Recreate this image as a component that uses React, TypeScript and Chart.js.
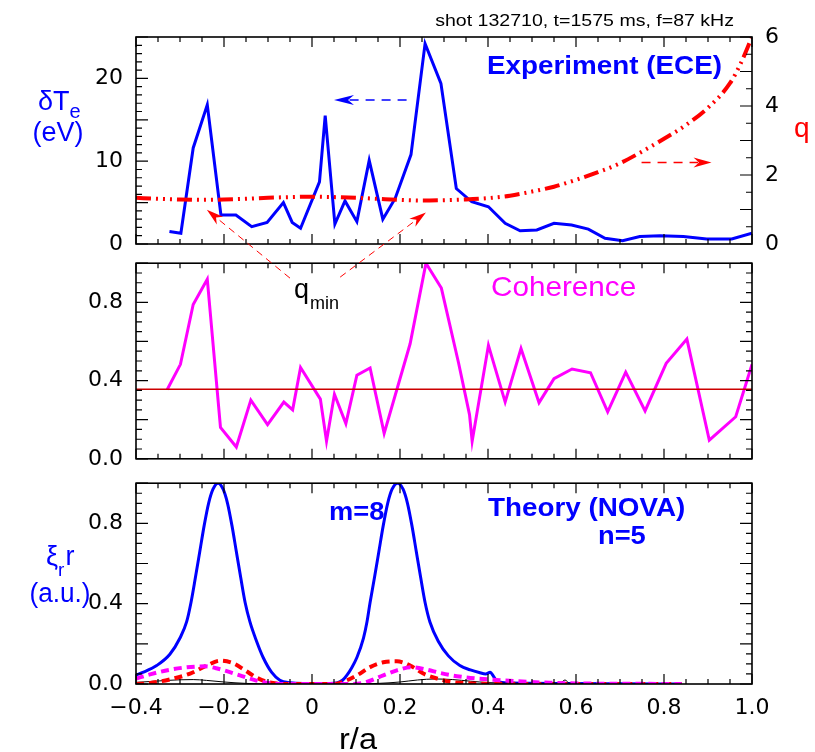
import React, { useEffect, useRef } from 'react';
import { Chart, registerables } from 'chart.js';
Chart.register(...registerables);

// ---------------- data ----------------
const xTickValues = [-0.4, -0.2, 0, 0.2, 0.4, 0.6, 0.8, 1.0];
const xTickLabels = ['−0.4', '−0.2', '0', '0.2', '0.4', '0.6', '0.8', '1.0'];
const dTeTickValues = [0, 10, 20];
const dTeTickLabels = ['0', '10', '20'];
const qTickValues = [0, 2, 4, 6];
const qTickLabels = ['0', '2', '4', '6'];
const unitTickValues = [0, 0.4, 0.8];
const unitTickLabels = ['0.0', '0.4', '0.8'];

// Experiment (ECE) delta Te [eV]
const eceR = [-0.324, -0.298, -0.27, -0.238, -0.207, -0.173, -0.137, -0.102, -0.065, -0.045, -0.026, 0.017, 0.03, 0.052, 0.075, 0.102, 0.13, 0.161, 0.189, 0.225, 0.257, 0.293, 0.328, 0.363, 0.401, 0.439, 0.473, 0.511, 0.55, 0.59, 0.628, 0.666, 0.706, 0.745, 0.791, 0.844, 0.897, 0.954, 1.0];
const eceDTe = [1.5, 1.3, 11.6, 16.8, 3.5, 3.5, 2.1, 2.6, 5.0, 2.6, 1.9, 7.5, 15.5, 2.4, 5.2, 2.7, 10.1, 3.0, 5.5, 10.8, 24.2, 19.4, 6.7, 5.1, 4.5, 2.5, 1.6, 1.7, 2.5, 2.3, 1.8, 0.7, 0.4, 0.9, 1.0, 0.9, 0.6, 0.6, 1.3];

// safety factor profile q
const qR = [-0.4, -0.35, -0.3, -0.25, -0.2, -0.15, -0.1, -0.05, 0, 0.05, 0.1, 0.15, 0.2, 0.25, 0.3, 0.35, 0.4, 0.45, 0.5, 0.55, 0.6, 0.65, 0.7, 0.75, 0.8, 0.85, 0.9, 0.95, 0.975, 1.0];
const qProfile = [1.34, 1.31, 1.29, 1.28, 1.29, 1.31, 1.34, 1.36, 1.37, 1.36, 1.34, 1.31, 1.28, 1.26, 1.27, 1.29, 1.33, 1.4, 1.52, 1.66, 1.86, 2.08, 2.34, 2.68, 3.05, 3.45, 3.95, 4.66, 5.25, 6.0];

// Coherence
const cohR = [-0.329, -0.299, -0.27, -0.238, -0.208, -0.172, -0.139, -0.101, -0.064, -0.044, -0.026, 0.019, 0.033, 0.051, 0.077, 0.102, 0.132, 0.164, 0.223, 0.259, 0.294, 0.333, 0.358, 0.364, 0.401, 0.439, 0.475, 0.516, 0.55, 0.591, 0.633, 0.672, 0.713, 0.757, 0.805, 0.852, 0.903, 0.963, 1.0];
const cohValue = [0.354, 0.483, 0.789, 0.918, 0.16, 0.06, 0.3, 0.175, 0.29, 0.25, 0.467, 0.305, 0.09, 0.33, 0.18, 0.427, 0.464, 0.13, 0.588, 1.0, 0.873, 0.491, 0.226, 0.09, 0.58, 0.29, 0.564, 0.287, 0.41, 0.459, 0.44, 0.24, 0.443, 0.245, 0.488, 0.612, 0.095, 0.215, 0.483];
const cohLevelR = [-0.4, 1.0];
const cohLevel = [0.355, 0.355];

// Theory (NOVA) eigenfunction harmonics
const novaM8R = [-0.4, -0.383, -0.353, -0.323, -0.3, -0.285, -0.275, -0.265, -0.255, -0.245, -0.235, -0.225, -0.2135, -0.202, -0.192, -0.182, -0.172, -0.162, -0.152, -0.141, -0.126, -0.111, -0.092, -0.073, -0.05, -0.02, 0.02, 0.056, 0.07, 0.079, 0.09, 0.102, 0.117, 0.125, 0.132, 0.142, 0.152, 0.162, 0.172, 0.182, 0.1945, 0.207, 0.217, 0.227, 0.237, 0.247, 0.257, 0.268, 0.287, 0.31, 0.336, 0.36, 0.38, 0.395, 0.405, 0.412, 0.42, 0.44, 0.5, 0.6, 0.7, 0.84];
const novaM8 = [0.045, 0.059, 0.092, 0.148, 0.229, 0.309, 0.406, 0.53, 0.66, 0.79, 0.9, 0.97, 1.0, 0.97, 0.9, 0.79, 0.66, 0.53, 0.406, 0.309, 0.213, 0.132, 0.059, 0.019, 0.006, 0.002, 0.002, 0.005, 0.02, 0.043, 0.08, 0.132, 0.229, 0.31, 0.406, 0.53, 0.66, 0.79, 0.9, 0.97, 1.0, 0.97, 0.9, 0.79, 0.66, 0.53, 0.406, 0.309, 0.213, 0.14, 0.092, 0.07, 0.057, 0.05, 0.058, 0.04, 0.015, 0.006, 0.004, 0.002, 0.001, 0.0];
const novaM7R = [-0.4, -0.37, -0.323, -0.277, -0.239, -0.209, -0.179, -0.152, -0.126, -0.103, -0.08, -0.05, 0.05, 0.071, 0.102, 0.132, 0.162, 0.193, 0.223, 0.253, 0.283, 0.314, 0.35, 0.4, 0.84];
const novaM7 = [0.0, 0.004, 0.023, 0.052, 0.092, 0.116, 0.103, 0.068, 0.032, 0.011, 0.002, 0.0, 0.0, 0.011, 0.043, 0.084, 0.108, 0.113, 0.092, 0.052, 0.028, 0.011, 0.004, 0.001, 0.0];
const novaM9R = [-0.4, -0.368, -0.323, -0.285, -0.243, -0.213, -0.164, -0.13, -0.103, -0.07, 0.08, 0.117, 0.162, 0.193, 0.225, 0.26, 0.291, 0.329, 0.427, 0.488, 0.541, 0.6, 0.84];
const novaM9 = [0.027, 0.048, 0.071, 0.083, 0.088, 0.076, 0.043, 0.019, 0.006, 0.0, 0.0, 0.006, 0.043, 0.068, 0.084, 0.072, 0.055, 0.039, 0.019, 0.011, 0.006, 0.003, 0.0];
const novaM6R = [-0.4, -0.35, -0.3, -0.27, -0.24, -0.2, -0.15, -0.1, 0, 0.1, 0.15, 0.2, 0.24, 0.28, 0.32, 0.36, 0.4, 0.45, 0.5, 0.55, 0.565, 0.575, 0.585, 0.62];
const novaM6 = [0.008, 0.015, 0.021, 0.022, 0.018, 0.01, 0.003, 0.0, 0.0, 0.0, 0.003, 0.01, 0.02, 0.025, 0.022, 0.014, 0.007, 0.004, 0.003, 0.003, 0.006, 0.02, 0.004, 0.002];

// ---------------- styling helpers ----------------
const FONT = '"Liberation Sans", Arial, Helvetica, sans-serif';
const TICK_FONT = { family: '"DejaVu Sans", sans-serif', size: 22 };
const BLUE = '#0000ff';
const RED = '#ff0000';
const MAGENTA = '#ff00ff';

const pts = (xs: number[], ys: number[]) => xs.map((x, i) => ({ x, y: ys[i] }));

function xScale(showLabels: boolean, height: number): any {
  return {
    type: 'linear', position: 'bottom', min: -0.4, max: 1.0,
    grid: { display: false }, border: { display: false },
    afterBuildTicks: (s: any) => { s.ticks = xTickValues.map((v) => ({ value: v })); },
    ticks: {
      display: showLabels, autoSkip: false, maxRotation: 0, minRotation: 0, padding: 3,
      font: TICK_FONT, color: '#000', callback: (_v: any, i: number) => xTickLabels[i],
    },
    afterFit: (s: any) => { s.height = height; },
  };
}

function yScale(min: number, max: number, vals: number[], labels: string[], position: string, width: number): any {
  return {
    type: 'linear', position, min, max,
    grid: { display: false }, border: { display: false },
    afterBuildTicks: (s: any) => { s.ticks = vals.map((v) => ({ value: v })); },
    ticks: { autoSkip: false, padding: 5, font: TICK_FONT, color: '#000', callback: (_v: any, i: number) => labels[i] },
    afterFit: (s: any) => { s.width = width; },
  };
}

function label(ctx: CanvasRenderingContext2D, s: string, x: number, y: number, size: number, color: string,
  o: { bold?: boolean; align?: CanvasTextAlign; sx?: number } = {}) {
  ctx.save();
  ctx.translate(x, y);
  ctx.scale(o.sx ?? 1.1, 1);
  ctx.font = `${o.bold ? 'bold ' : ''}${size}px ${FONT}`;
  ctx.textAlign = o.align ?? 'left';
  ctx.textBaseline = 'alphabetic';
  ctx.fillStyle = color;
  ctx.fillText(s, 0, 0);
  ctx.restore();
}

function textWidth(ctx: CanvasRenderingContext2D, s: string, size: number, sx = 1.1, bold = false) {
  ctx.save();
  ctx.font = `${bold ? 'bold ' : ''}${size}px ${FONT}`;
  const w = ctx.measureText(s).width * sx;
  ctx.restore();
  return w;
}

function arrow(ctx: CanvasRenderingContext2D, x0: number, y0: number, x1: number, y1: number, color: string,
  lw: number, dash: number[], headLen: number, headW: number) {
  const ang = Math.atan2(y1 - y0, x1 - x0);
  const c = Math.cos(ang), s = Math.sin(ang);
  const nx = -s, ny = c;
  ctx.save();
  ctx.strokeStyle = color; ctx.fillStyle = color; ctx.lineWidth = lw;
  ctx.setLineDash(dash);
  ctx.beginPath();
  ctx.moveTo(x0, y0);
  ctx.lineTo(x1 - headLen * 0.75 * c, y1 - headLen * 0.75 * s);
  ctx.stroke();
  ctx.setLineDash([]);
  ctx.beginPath();
  ctx.moveTo(x1, y1);
  ctx.lineTo(x1 - headLen * c + headW * nx, y1 - headLen * s + headW * ny);
  ctx.lineTo(x1 - headLen * 0.7 * c, y1 - headLen * 0.7 * s);
  ctx.lineTo(x1 - headLen * c - headW * nx, y1 - headLen * s - headW * ny);
  ctx.closePath();
  ctx.fill();
  ctx.restore();
}

function framePlugin(cfg: { yId: string; yMinor: number; yMajor: number; rId?: string; rMinor?: number; rMajor?: number }) {
  return {
    id: 'frame',
    afterDatasetsDraw(chart: any) {
      const { ctx, chartArea: a, scales } = chart;
      const xs = scales.x;
      const each = (min: number, max: number, minor: number, major: number, fn: (v: number, maj: boolean) => void) => {
        const n = Math.round((max - min) / minor);
        for (let i = 0; i <= n; i++) {
          const v = min + i * minor;
          const r = v / major;
          fn(v, Math.abs(r - Math.round(r)) < 1e-6);
        }
      };
      ctx.save();
      ctx.strokeStyle = '#000';
      ctx.lineWidth = 1.2;
      ctx.beginPath();
      each(xs.min, xs.max, 0.05, 0.2, (v, maj) => {
        const px = xs.getPixelForValue(v);
        const L = maj ? 10 : 5;
        ctx.moveTo(px, a.bottom); ctx.lineTo(px, a.bottom - L);
        ctx.moveTo(px, a.top); ctx.lineTo(px, a.top + L);
      });
      const ys = scales[cfg.yId];
      each(ys.min, ys.max, cfg.yMinor, cfg.yMajor, (v, maj) => {
        const py = ys.getPixelForValue(v);
        const L = maj ? 12 : 6;
        ctx.moveTo(a.left, py); ctx.lineTo(a.left + L, py);
        if (!cfg.rId) { ctx.moveTo(a.right, py); ctx.lineTo(a.right - L, py); }
      });
      if (cfg.rId) {
        const rs = scales[cfg.rId];
        each(rs.min, rs.max, cfg.rMinor as number, cfg.rMajor as number, (v, maj) => {
          const py = rs.getPixelForValue(v);
          const L = maj ? 12 : 6;
          ctx.moveTo(a.right, py); ctx.lineTo(a.right - L, py);
        });
      }
      ctx.stroke();
      ctx.lineWidth = 1.6;
      ctx.strokeRect(a.left, a.top, a.right - a.left, a.bottom - a.top);
      ctx.restore();
    },
  };
}

function textPlugin(draw: (chart: any) => void) {
  return { id: 'texts', afterDraw: (chart: any) => draw(chart) };
}

const TOP_OFF = 0;
const MID_OFF = 245;
const BOT_OFF = 465;

// ---------------- component ----------------
export default function App() {
  const topRef = useRef<HTMLCanvasElement>(null);
  const midRef = useRef<HTMLCanvasElement>(null);
  const botRef = useRef<HTMLCanvasElement>(null);

  useEffect(() => {
    const lineBase = { pointRadius: 0, fill: false, borderJoinStyle: 'miter' as const };

    const top = new Chart(topRef.current as HTMLCanvasElement, {
      type: 'line',
      data: {
        datasets: [
          {
            ...lineBase, label: 'q', data: pts(qR, qProfile), yAxisID: 'q', borderColor: RED, borderWidth: 4,
            borderDash: [15, 5, 2, 5, 2, 5, 2, 5], cubicInterpolationMode: 'monotone',
          } as any,
          { ...lineBase, label: 'δTe (ECE)', data: pts(eceR, eceDTe), yAxisID: 'y', borderColor: BLUE, borderWidth: 3 } as any,
        ],
      },
      options: {
        animation: false, responsive: false, devicePixelRatio: 1,
        layout: { padding: { top: 37, left: 0, right: 0, bottom: 0 } },
        plugins: { legend: { display: false }, tooltip: { enabled: false } },
        scales: {
          x: xScale(false, 76),
          y: yScale(0, 25, dTeTickValues, dTeTickLabels, 'left', 136),
          q: yScale(0, 6, qTickValues, qTickLabels, 'right', 63),
        },
      } as any,
      plugins: [
        framePlugin({ yId: 'y', yMinor: 1, yMajor: 5, rId: 'q', rMinor: 0.5, rMajor: 1 }),
        textPlugin((chart) => {
          const ctx: CanvasRenderingContext2D = chart.ctx;
          const xs = chart.scales.x, ys = chart.scales.y, qs = chart.scales.q;
          const o = TOP_OFF;
          label(ctx, 'shot 132710, t=1575 ms, f=87 kHz', 734, 26 - o, 17, '#000', { align: 'right', sx: 1.15 });
          label(ctx, 'Experiment (ECE)', 487, 74 - o, 26, BLUE, { bold: true, sx: 1.07 });
          // δTe (eV)
          const w = textWidth(ctx, 'δT', 27, 1.0);
          label(ctx, 'δT', 38, 110 - o, 27, BLUE, { sx: 1.0 });
          label(ctx, 'e', 38 + w, 118 - o, 20, BLUE, { sx: 1.0 });
          label(ctx, '(eV)', 58, 141 - o, 27, BLUE, { align: 'center', sx: 1.0 });
          // q
          label(ctx, 'q', 794, 137 - o, 28, RED, { sx: 1.0 });
          // arrows
          arrow(ctx, xs.getPixelForValue(0.215), ys.getPixelForValue(17.4), xs.getPixelForValue(0.05), ys.getPixelForValue(17.4), BLUE, 1.5, [9, 7], 20, 5);
          arrow(ctx, xs.getPixelForValue(0.749), qs.getPixelForValue(2.36), xs.getPixelForValue(0.908), qs.getPixelForValue(2.36), RED, 1.5, [9, 7], 18, 5);
          arrow(ctx, xs.getPixelForValue(-0.05), qs.getPixelForValue(-0.99), xs.getPixelForValue(-0.239), qs.getPixelForValue(0.99), RED, 1, [7, 5], 17, 5);
          arrow(ctx, xs.getPixelForValue(0.064), qs.getPixelForValue(-0.96), xs.getPixelForValue(0.259), qs.getPixelForValue(0.91), RED, 1, [7, 5], 17, 5);
          // q_min
          label(ctx, 'q', 294, 298 - o, 27, '#000', { sx: 1.0 });
          label(ctx, 'min', 310, 309 - o, 18, '#000', { sx: 1.0 });
        }),
      ],
    });

    const mid = new Chart(midRef.current as HTMLCanvasElement, {
      type: 'line',
      data: {
        datasets: [
          { ...lineBase, label: 'level', data: pts(cohLevelR, cohLevel), borderColor: '#cc0000', borderWidth: 1.5 } as any,
          { ...lineBase, label: 'Coherence', data: pts(cohR, cohValue), borderColor: MAGENTA, borderWidth: 3 } as any,
        ],
      },
      options: {
        animation: false, responsive: false, devicePixelRatio: 1,
        layout: { padding: { top: 13, left: 0, right: 63, bottom: 0 } },
        plugins: { legend: { display: false }, tooltip: { enabled: false } },
        scales: {
          x: xScale(false, 12),
          y: yScale(0, 1.0, unitTickValues, unitTickLabels, 'left', 136),
        },
      } as any,
      plugins: [
        framePlugin({ yId: 'y', yMinor: 0.05, yMajor: 0.2 }),
        textPlugin((chart) => {
          const ctx: CanvasRenderingContext2D = chart.ctx;
          label(ctx, 'Coherence', 491, 296 - MID_OFF, 28, MAGENTA, { sx: 1.06 });
        }),
      ],
    });

    const bot = new Chart(botRef.current as HTMLCanvasElement, {
      type: 'line',
      data: {
        datasets: [
          { ...lineBase, label: 'm=9', data: pts(novaM9R, novaM9), borderColor: MAGENTA, borderWidth: 4, borderDash: [8, 5], cubicInterpolationMode: 'monotone' } as any,
          { ...lineBase, label: 'm=7', data: pts(novaM7R, novaM7), borderColor: RED, borderWidth: 4, borderDash: [8, 5], cubicInterpolationMode: 'monotone' } as any,
          { ...lineBase, label: 'm=6', data: pts(novaM6R, novaM6), borderColor: '#000', borderWidth: 1, cubicInterpolationMode: 'monotone' } as any,
          { ...lineBase, label: 'm=8', data: pts(novaM8R, novaM8), borderColor: BLUE, borderWidth: 3, cubicInterpolationMode: 'monotone' } as any,
        ],
      },
      options: {
        animation: false, responsive: false, devicePixelRatio: 1,
        layout: { padding: { top: 12, left: 0, right: 63, bottom: 0 } },
        plugins: { legend: { display: false }, tooltip: { enabled: false } },
        scales: {
          x: xScale(true, 68),
          y: yScale(0, 1.0, unitTickValues, unitTickLabels, 'left', 136),
        },
      } as any,
      plugins: [
        framePlugin({ yId: 'y', yMinor: 0.05, yMajor: 0.2 }),
        textPlugin((chart) => {
          const ctx: CanvasRenderingContext2D = chart.ctx;
          const o = BOT_OFF;
          label(ctx, 'm=8', 329, 520 - o, 26, BLUE, { bold: true, sx: 1.05 });
          label(ctx, 'Theory (NOVA)', 488, 516 - o, 26, BLUE, { bold: true, sx: 1.07 });
          label(ctx, 'n=5', 598, 544 - o, 26, BLUE, { bold: true, sx: 1.05 });
          const w1 = textWidth(ctx, 'ξ', 27, 1.0);
          label(ctx, 'ξ', 46, 565 - o, 27, BLUE, { sx: 1.0 });
          const w2 = textWidth(ctx, 'r', 19, 1.0);
          label(ctx, 'r', 46 + w1, 576 - o, 19, BLUE, { sx: 1.0 });
          label(ctx, 'r', 46 + w1 + w2 + 1, 565 - o, 27, BLUE, { sx: 1.0 });
          label(ctx, '(a.u.)', 60, 602 - o, 27, BLUE, { align: 'center', sx: 0.97 });
          label(ctx, 'r/a', 358, 749 - o, 29, '#000', { align: 'center', sx: 1.12 });
        }),
      ],
    });

    return () => { top.destroy(); mid.destroy(); bot.destroy(); };
  }, []);

  const cs = (t: number, z: number): React.CSSProperties => ({ position: 'absolute', left: 0, top: t, zIndex: z });
  return (
    <div style={{ position: 'absolute', left: 0, top: 0, width: 815, height: 752, background: '#fff' }}>
      <canvas ref={botRef} width={815} height={287} style={cs(BOT_OFF, 1)} />
      <canvas ref={midRef} width={815} height={232} style={cs(MID_OFF, 2)} />
      <canvas ref={topRef} width={815} height={320} style={cs(TOP_OFF, 3)} />
    </div>
  );
}
